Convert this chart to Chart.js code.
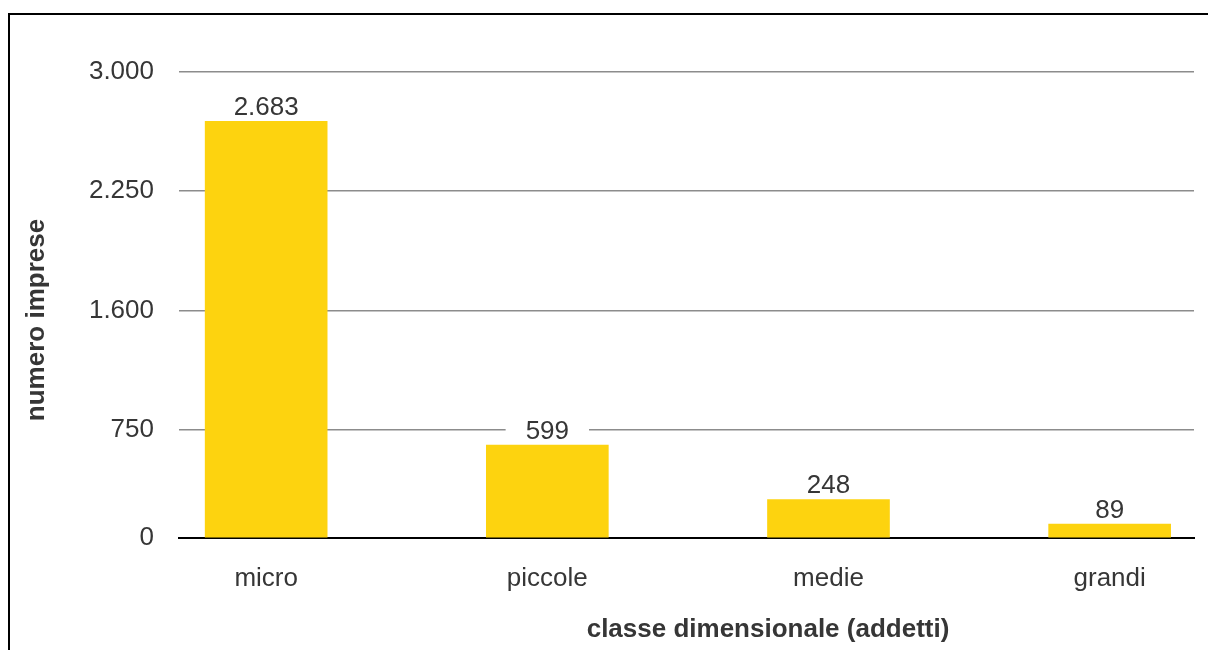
<!DOCTYPE html>
<html>
<head>
<meta charset="utf-8">
<script src="https://cdn.jsdelivr.net/npm/chart.js@4.4.1/dist/chart.umd.min.js"></script>
<style>
  html, body { margin: 0; padding: 0; background: #fff; overflow: hidden; }
  #wrap { position: absolute; left: 0; top: 0; width: 1208px; height: 650px; }
  #frame { position: absolute; left: 8px; top: 13px; width: 1400px; height: 900px; border: 2px solid #000; }
</style>
</head>
<body>
<div id="frame"></div>
<div id="wrap"><canvas id="myChart" width="1208" height="650"></canvas></div>
<script>
const categories = ["micro", "piccole", "medie", "grandi"];
const counts = [2683, 599, 248, 89];
const valueLabels = ["2.683", "599", "248", "89"];
const tickValues = [0, 695, 1465, 2235, 3000];
const tickLabels = ["0", "750", "1.600", "2.250", "3.000"];

const textColor = "#363636";
const fontFamily = "'Liberation Sans', Arial, Helvetica, sans-serif";

// value labels on top of bars, with white box behind (cuts gridlines)
const barLabels = {
    id: "barLabels",
    afterDatasetsDraw(chart) {
        const ctx = chart.ctx;
        const meta = chart.getDatasetMeta(0);
        ctx.save();
        ctx.font = "26px " + fontFamily;
        ctx.textAlign = "center";
        ctx.textBaseline = "alphabetic";
        meta.data.forEach((bar, i) => {
            const txt = valueLabels[i];
            const w = ctx.measureText(txt).width + 40;
            ctx.fillStyle = "#fff";
            ctx.fillRect(bar.x - w / 2, bar.y - 32, w, 28);
            ctx.fillStyle = textColor;
            ctx.fillText(txt, bar.x, bar.y - 6);
        });
        ctx.restore();
    }
};

// axis titles
const axisTitles = {
    id: "axisTitles",
    afterDraw(chart) {
        const ctx = chart.ctx;
        ctx.save();
        ctx.font = "bold 26px " + fontFamily;
        ctx.fillStyle = textColor;
        ctx.textAlign = "center";
        ctx.textBaseline = "middle";
        ctx.fillText("classe dimensionale (addetti)", 768, 630);
        ctx.translate(37, 320);
        ctx.rotate(-Math.PI / 2);
        ctx.fillText("numero imprese", 0, 0);
        ctx.restore();
    }
};

const ctx = document.getElementById("myChart").getContext("2d");
new Chart(ctx, {
    type: "bar",
    data: {
        datasets: [{
            data: counts.map((v, i) => ({ x: i, y: v })),
            backgroundColor: "#FDD30F",
            barThickness: 122
        }]
    },
    options: {
        responsive: false,
        animation: false,
        layout: { padding: { top: 72, right: 14, left: 0, bottom: 0 } },
        plugins: {
            legend: { display: false },
            tooltip: { enabled: false }
        },
        scales: {
            x: {
                type: "linear",
                offset: false,
                min: -0.31,
                max: 3.3,
                grid: { display: false, offset: false },
                border: { display: true, color: "#000", width: 2 },
                afterFit(scale) { scale.height = 112; },
                afterBuildTicks(scale) {
                    scale.ticks = categories.map((c, i) => ({ value: i }));
                },
                ticks: {
                    padding: 17,
                    color: textColor,
                    font: { family: fontFamily, size: 26 },
                    callback: (v) => categories[v]
                }
            },
            y: {
                min: 0,
                max: 3000,
                border: { display: false },
                grid: {
                    drawTicks: false,
                    color: (c) => c.tick && c.tick.value === 0 ? "rgba(0,0,0,0)" : "#8c8c8c",
                    lineWidth: 1.5
                },
                afterFit(scale) { scale.width = 179; },
                afterBuildTicks(scale) {
                    scale.ticks = tickValues.map(v => ({ value: v }));
                },
                ticks: {
                    padding: 25,
                    color: textColor,
                    font: { family: fontFamily, size: 26 },
                    callback: (v, i) => tickLabels[i]
                }
            }
        }
    },
    plugins: [barLabels, axisTitles]
});
</script>
</body>
</html>
